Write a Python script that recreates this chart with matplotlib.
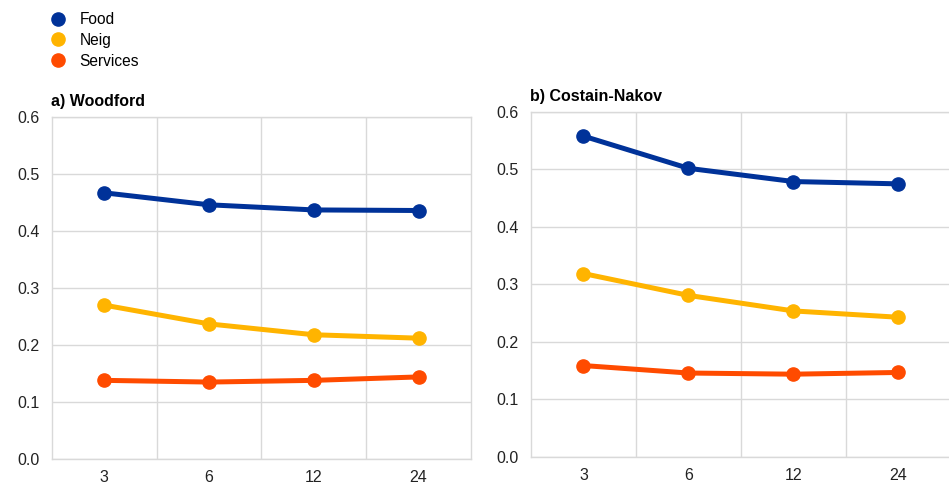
import matplotlib.pyplot as plt
from matplotlib.lines import Line2D
from matplotlib.ticker import FixedLocator, FormatStrFormatter

plt.rcParams['font.family'] = ['Liberation Sans', 'DejaVu Sans']

horizons = ["3", "6", "12", "24"]
series_names = ["Food", "Neig", "Services"]
colors = ["#003299", "#FFB400", "#FF4B00"]

# a) Woodford
woodford_food = [0.467, 0.446, 0.437, 0.436]
woodford_neig = [0.270, 0.237, 0.218, 0.212]
woodford_services = [0.138, 0.135, 0.138, 0.144]

# b) Costain-Nakov
costain_food = [0.558, 0.502, 0.479, 0.475]
costain_neig = [0.319, 0.281, 0.254, 0.243]
costain_services = [0.159, 0.146, 0.144, 0.147]

grid_col = "#d9d9d9"


def draw_panel(ax, title, food, neig, services):
    x = list(range(len(horizons)))
    for vals, col in zip([food, neig, services], colors):
        ax.plot(x, vals, color=col, lw=3.6, marker="o", ms=9.5, solid_capstyle="round")
    ax.set_xlim(-0.5, len(horizons) - 0.5)
    ax.set_ylim(0, 0.6)
    ax.set_yticks([0.0, 0.1, 0.2, 0.3, 0.4, 0.5, 0.6])
    ax.yaxis.set_major_formatter(FormatStrFormatter("%.1f"))
    ax.set_xticks(x)
    ax.set_xticklabels(horizons)
    ax.xaxis.set_minor_locator(FixedLocator([0.5, 1.5, 2.5]))
    ax.grid(axis="y", which="major", color=grid_col, lw=1)
    ax.grid(axis="x", which="minor", color=grid_col, lw=1)
    ax.set_axisbelow(True)
    ax.tick_params(which="both", length=0, labelsize=11.5, colors="#222222")
    ax.tick_params(axis="y", pad=9)
    ax.tick_params(axis="x", pad=8)
    for s in ax.spines.values():
        s.set_color(grid_col)
        s.set_linewidth(1)
    ax.set_title(title, loc="left", fontsize=11.5, fontweight="bold", pad=8, x=-0.002)


fig = plt.figure(figsize=(9.49, 4.82), dpi=100)
ax1 = fig.add_axes([0.0548, 0.0477, 0.4415, 0.7095])
ax2 = fig.add_axes([0.5595, 0.0519, 0.4426, 0.7158])

draw_panel(ax1, "a) Woodford", woodford_food, woodford_neig, woodford_services)
draw_panel(ax2, "b) Costain-Nakov", costain_food, costain_neig, costain_services)

handles = [Line2D([], [], ls="none", marker="o", ms=9.5, color=c) for c in colors]
fig.legend(handles, series_names, loc="upper left", bbox_to_anchor=(0.045, 0.988),
           frameon=False, fontsize=11.2, handletextpad=0.75, labelspacing=0.38,
           handlelength=1.2, borderaxespad=0)

fig.savefig("out.png", dpi=100)
